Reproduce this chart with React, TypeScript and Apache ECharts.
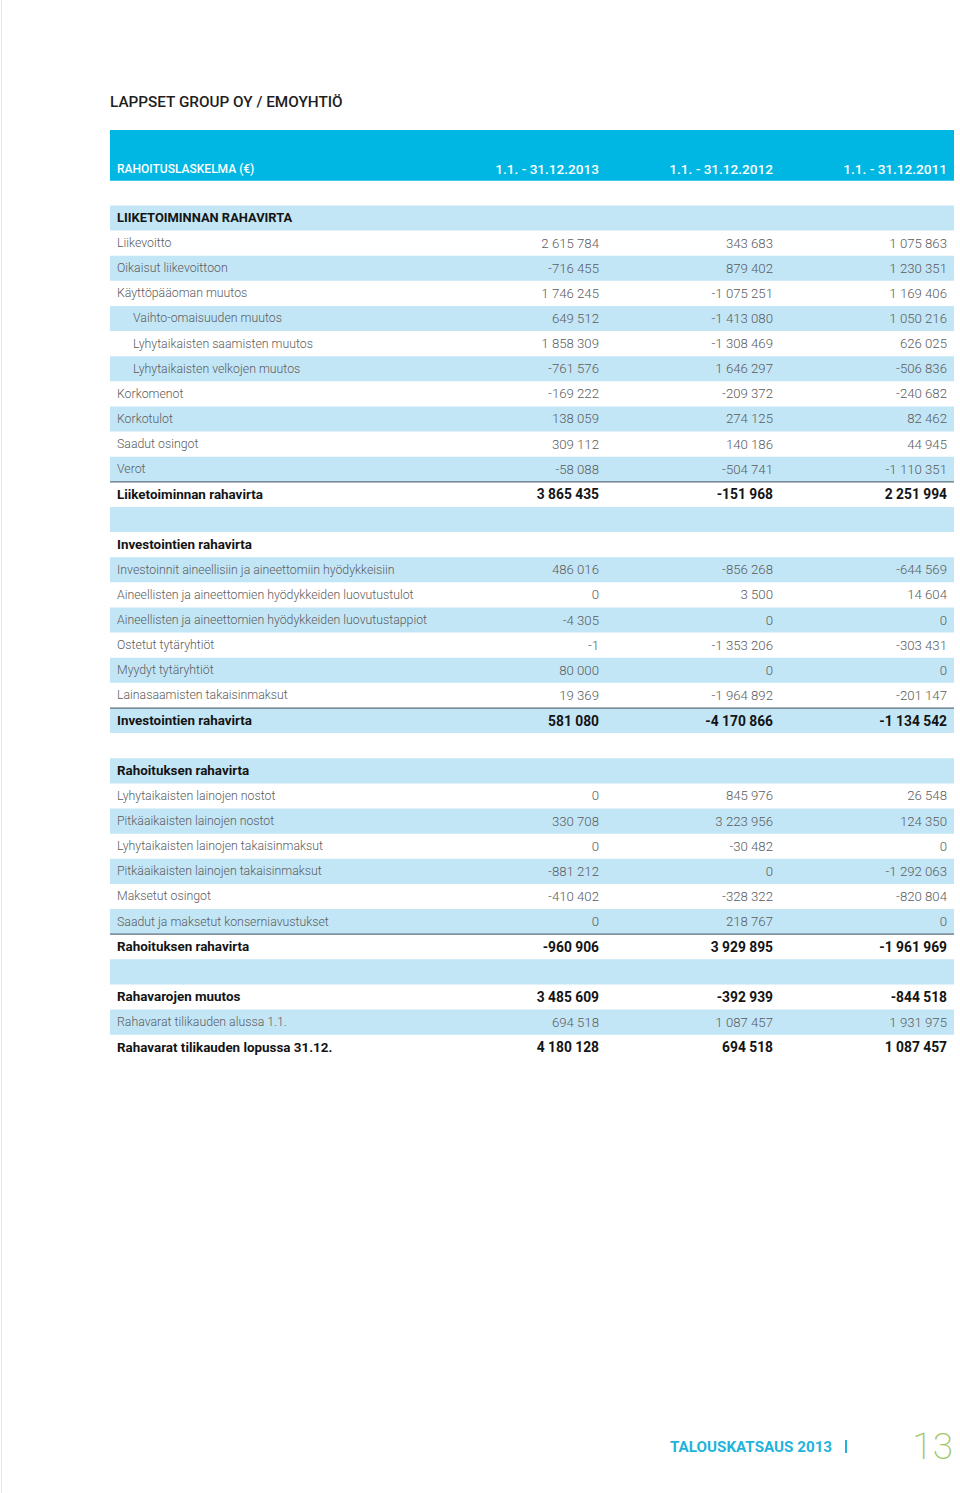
import React, { useEffect, useRef } from "react";
import * as echarts from "echarts";

const TITLE = "LAPPSET GROUP OY / EMOYHTIÖ";
const HEADER_LABEL = "RAHOITUSLASKELMA (€)";
const PERIODS = ["1.1. - 31.12.2013", "1.1. - 31.12.2012", "1.1. - 31.12.2011"];

const LABELS = [
  "LIIKETOIMINNAN RAHAVIRTA",
  "Liikevoitto",
  "Oikaisut liikevoittoon",
  "Käyttöpääoman muutos",
  "Vaihto-omaisuuden muutos",
  "Lyhytaikaisten saamisten muutos",
  "Lyhytaikaisten velkojen muutos",
  "Korkomenot",
  "Korkotulot",
  "Saadut osingot",
  "Verot",
  "Liiketoiminnan rahavirta",
  "",
  "Investointien rahavirta",
  "Investoinnit aineellisiin ja aineettomiin hyödykkeisiin",
  "Aineellisten ja aineettomien hyödykkeiden luovutustulot",
  "Aineellisten ja aineettomien hyödykkeiden luovutustappiot",
  "Ostetut tytäryhtiöt",
  "Myydyt tytäryhtiöt",
  "Lainasaamisten takaisinmaksut",
  "Investointien rahavirta",
  "",
  "Rahoituksen rahavirta",
  "Lyhytaikaisten lainojen nostot",
  "Pitkäaikaisten lainojen nostot",
  "Lyhytaikaisten lainojen takaisinmaksut",
  "Pitkäaikaisten lainojen takaisinmaksut",
  "Maksetut osingot",
  "Saadut ja maksetut konserniavustukset",
  "Rahoituksen rahavirta",
  "",
  "Rahavarojen muutos",
  "Rahavarat tilikauden alussa 1.1.",
  "Rahavarat tilikauden lopussa 31.12.",
];

// row kinds: section, item, sub, total, totalLine, heading, blank
const KINDS = [
  "section", "item", "item", "item", "sub", "sub", "sub", "item", "item", "item", "item",
  "totalLine", "blank", "heading",
  "item", "item", "item", "item", "item", "item",
  "totalLine", "blank", "heading",
  "item", "item", "item", "item", "item", "item",
  "totalLine", "blank", "total", "item", "total",
];

const V2013 = [
  null, 2615784, -716455, 1746245, 649512, 1858309, -761576, -169222, 138059, 309112, -58088,
  3865435, null, null,
  486016, 0, -4305, -1, 80000, 19369,
  581080, null, null,
  0, 330708, 0, -881212, -410402, 0,
  -960906, null, 3485609, 694518, 4180128,
];
const V2012 = [
  null, 343683, 879402, -1075251, -1413080, -1308469, 1646297, -209372, 274125, 140186, -504741,
  -151968, null, null,
  -856268, 3500, 0, -1353206, 0, -1964892,
  -4170866, null, null,
  845976, 3223956, -30482, 0, -328322, 218767,
  3929895, null, -392939, 1087457, 694518,
];
const V2011 = [
  null, 1075863, 1230351, 1169406, 1050216, 626025, -506836, -240682, 82462, 44945, -1110351,
  2251994, null, null,
  -644569, 14604, 0, -303431, 0, -201147,
  -1134542, null, null,
  26548, 124350, 0, -1292063, -820804, 0,
  -1961969, null, -844518, 1931975, 1087457,
];

const FOOTER_TEXT = "TALOUSKATSAUS 2013";
const PAGE_NO = "13";

function fmt(v: number): string {
  const s = Math.abs(v).toString();
  let out = "";
  for (let i = 0; i < s.length; i++) {
    const fromEnd = s.length - i;
    out += s[i];
    if (fromEnd > 1 && (fromEnd - 1) % 3 === 0) out += " ";
  }
  return (v < 0 ? "-" : "") + out;
}

const FONT = "Roboto, 'Noto Sans', sans-serif";

export default function App() {
  const ref = useRef<HTMLDivElement>(null);
  useEffect(() => {
    if (!ref.current) return;
    const chart = echarts.init(ref.current, null, { renderer: "svg" });
    const TOP = 130;
    const RH = 25.13;
    const LEFT = 110;
    const RIGHT = 954;
    const COLS = [599, 773, 947];
    const LIGHT = "#c3e6f6";
    const BLUE = "#00b7e4";
    const GRAY = "#5b5c5e";
    const DARK = "#141414";
    const els: any[] = [];

    const txt = (x: number, y: number, text: string, opts: any) => ({
      type: "text",
      x,
      y,
      silent: true,
      style: {
        text,
        fill: opts.fill,
        fontFamily: opts.family || FONT,
        fontSize: opts.size,
        fontWeight: opts.weight,
        textAlign: opts.align || "left",
        align: opts.align || "left",
        textVerticalAlign: "middle",
        verticalAlign: "middle",
      },
    });

    // faint page edge
    els.push({ type: "rect", shape: { x: 1, y: 0, width: 1, height: 1493 }, style: { fill: "#e6e6e6" } });

    els.push(txt(LEFT, 102, TITLE, { fill: "#1e1e1e", size: 15.3, weight: 500 }));

    // header band
    els.push({ type: "rect", shape: { x: LEFT, y: TOP, width: RIGHT - LEFT, height: RH * 2 + 0.5 }, style: { fill: BLUE } });
    els.push(txt(117, 169, HEADER_LABEL, { fill: "#ffffff", size: 12, weight: 500 }));
    PERIODS.forEach((p, i) => els.push(txt(COLS[i], 169, p, { fill: "#ffffff", size: 13.6, weight: 500, align: "right" })));

    LABELS.forEach((label, idx) => {
      const r = idx + 3;
      const y0 = TOP + r * RH;
      const cy = y0 + RH / 2;
      if (r % 2 === 1) {
        els.push({ type: "rect", shape: { x: LEFT, y: y0, width: RIGHT - LEFT, height: RH }, style: { fill: LIGHT } });
      }
      const kind = KINDS[idx];
      if (kind === "totalLine") {
        els.push({ type: "rect", shape: { x: LEFT, y: y0 - 0.6, width: RIGHT - LEFT, height: 1.3 }, style: { fill: "#5f6f7c" } });
      }
      if (kind === "blank") return;
      const bold = kind === "section" || kind === "heading" || kind === "total" || kind === "totalLine";
      const fill = bold ? DARK : GRAY;
      const weight = bold ? 700 : 300;
      const x = kind === "sub" ? 133 : 117;
      const labelSize = kind === "section" ? 12.9 : bold ? 13.4 : 12.3;
      els.push(txt(x, cy, label, { fill, size: labelSize, weight }));
      [V2013, V2012, V2011].forEach((arr, c) => {
        const v = arr[idx];
        if (v === null || v === undefined) return;
        els.push(txt(COLS[c], cy, fmt(v as number), { fill, size: bold ? 13.8 : 13.2, weight, align: "right" }));
      });
    });

    // footer
    els.push(txt(670, 1447, FOOTER_TEXT, { fill: "#1fb3dc", size: 15.2, weight: 700 }));
    els.push({ type: "rect", shape: { x: 845, y: 1440, width: 2, height: 13 }, style: { fill: "#1fb3dc" } });
    els.push(txt(953, 1446, PAGE_NO, { fill: "#a6c76a", size: 37, weight: 200, align: "right" }));

    chart.setOption({ animation: false, graphic: { elements: els } });
    return () => chart.dispose();
  }, []);
  return (
    <div
      ref={ref}
      style={{ position: "absolute", left: 0, top: 0, width: 960, height: 1493, background: "#ffffff" }}
    />
  );
}
